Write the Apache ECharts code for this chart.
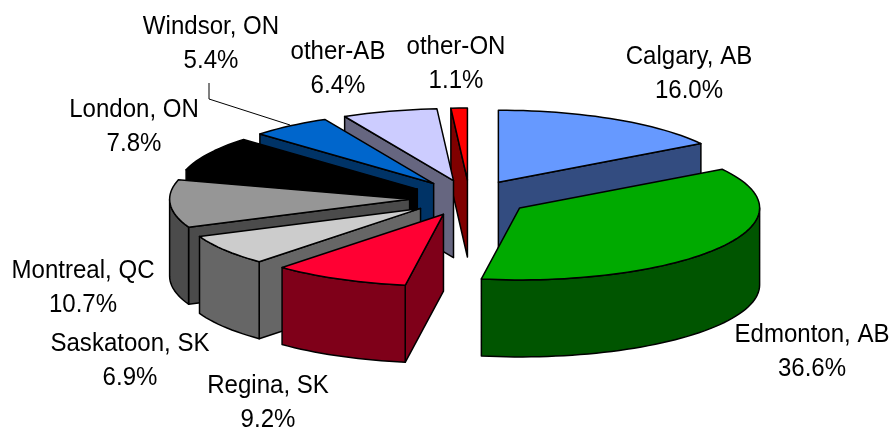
<!DOCTYPE html>
<html>
<head>
<meta charset="utf-8">
<style>html,body{margin:0;padding:0;background:#fff}#chart{width:893px;height:434px}</style>
<script src="https://cdn.jsdelivr.net/npm/echarts@6/dist/echarts.min.js"></script>
</head>
<body>
<div id="chart"></div>
<script>
// shares in percent, clockwise from 12 o'clock
const cities = ['Calgary, AB', 'Edmonton, AB', 'Regina, SK', 'Saskatoon, SK', 'Montreal, QC', 'London, ON', 'Windsor, ON', 'other-AB', 'other-ON'];
const shares = [16.0, 36.6, 9.2, 6.9, 10.7, 7.8, 5.4, 6.4, 1.1];
const topColors = ['#6699FF', '#00AA00', '#FF0033', '#CCCCCC', '#969696', '#000000', '#0066CC', '#CCCCFF', '#FF0000'];
const sideColors = ['#334C80', '#005500', '#7F0019', '#666666', '#4B4B4B', '#000000', '#003366', '#666680', '#800000'];
// back slices first so the front ones paint over them
const drawOrder = [8, 7, 6, 5, 4, 3, 2, 0, 1];
const labelCenters = [[689, 74], [812, 352], [268, 403], [130, 361], [83, 288], [134, 127], [211, 44], [338, 69], [456, 64]];

const explode = 0.25;
const thickness = 77 / 72;   // wall height, in units of the minor radius
const total = shares.reduce((a, b) => a + b, 0);

const startAngles = [];
shares.reduce((acc, v, i) => { startAngles[i] = acc; return acc + v / total * 360; }, 0);

const rad = d => d * Math.PI / 180;

function renderSlice(params, api) {
  const i = api.value(0);
  const s = startAngles[i];
  const t = s + shares[i] / total * 360;
  const mid = rad((s + t) / 2);
  const ox = explode * Math.sin(mid);
  const oy = explode * Math.cos(mid);
  const P = (ang, down) => api.coord([ox + Math.sin(rad(ang)), oy + Math.cos(rad(ang)) - (down ? thickness : 0)]);
  const apex = down => api.coord([ox, oy - (down ? thickness : 0)]);
  const arc = (a, b, down) => {
    const pts = [];
    const n = Math.max(2, Math.ceil((b - a) / 2));
    for (let k = 0; k <= n; k++) pts.push(P(a + (b - a) * k / n, down));
    return pts;
  };
  const face = (points, fill) => ({
    type: 'polygon',
    shape: { points },
    style: { fill, stroke: '#000', lineWidth: 1.5, lineJoin: 'round' }
  });
  const children = [];
  const side = sideColors[i];
  if (s > 180) children.push(face([apex(false), P(s, false), P(s, true), apex(true)], side));
  if (t < 180) children.push(face([apex(false), P(t, false), P(t, true), apex(true)], side));
  const a = Math.max(s, 90), b = Math.min(t, 270);
  if (b > a) children.push(face(arc(a, b, false).concat(arc(a, b, true).reverse()), side));
  children.push(face([apex(false)].concat(arc(s, t, false)), topColors[i]));
  return { type: 'group', children };
}

const chart = echarts.init(document.getElementById('chart'), null, { renderer: 'canvas' });

chart.setOption({
  animation: false,
  backgroundColor: '#fff',
  // major radius 240px, minor radius 72px, centre at (469.5, 198)
  grid: { left: 229.5, width: 480, top: 126, height: 144 },
  xAxis: { type: 'value', min: -1, max: 1, show: false },
  yAxis: { type: 'value', min: -1, max: 1, show: false },
  series: [{
    type: 'custom',
    coordinateSystem: 'cartesian2d',
    clip: false,
    silent: true,
    encode: { x: 1, y: 2 },
    data: drawOrder.map(i => [i, 0, 0]),
    renderItem: renderSlice
  }],
  graphic: cities.map((name, i) => ({
    type: 'text',
    x: labelCenters[i][0],
    y: labelCenters[i][1],
    scaleX: 0.925,
    silent: true,
    style: {
      text: name + '\n' + shares[i].toFixed(1) + '%',
      font: '26px "Liberation Sans"',
      fill: '#000',
      align: 'center',
      verticalAlign: 'middle',
      lineHeight: 34
    }
  })).concat([{
    type: 'polyline',
    silent: true,
    shape: { points: [[209, 83], [209, 99], [290, 125]] },
    style: { stroke: '#000', lineWidth: 1, fill: null }
  }])
});
</script>
</body>
</html>
